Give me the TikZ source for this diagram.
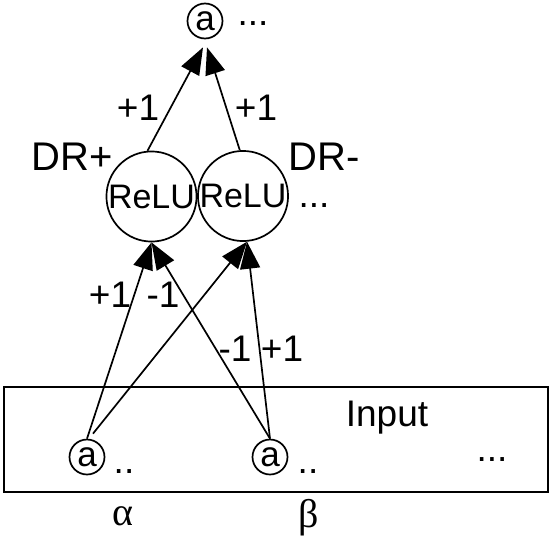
\documentclass[tikz,border=0pt]{standalone}
\usepackage{fontspec}
\setmainfont{Liberation Sans}
\newfontfamily\greekfont{Liberation Serif}
\usetikzlibrary{arrows.meta}
\begin{document}
\begin{tikzpicture}[x=1pt,y=-1pt,
  txt/.style={font=\fontsize{37}{42}\selectfont, inner sep=0pt},
  drtxt/.style={font=\fontsize{40}{44}\selectfont, inner sep=0pt},
  neuron/.style={circle, draw, line width=1.7pt, minimum size=88pt, inner sep=0pt, font=\fontsize{34}{38}\selectfont},
  unit/.style={circle, draw, line width=1.7pt, minimum size=35pt, inner sep=0pt, font=\fontsize{35}{40}\selectfont},
  greek/.style={font=\fontsize{40}{44}\selectfont\greekfont, inner sep=0pt},
  boxstyle/.style={draw, line width=1.8pt, minimum width=544pt, minimum height=105pt, inner sep=0pt},
  edge/.style={line width=1.7pt, -{Triangle[length=27pt,width=20pt]}}]
\useasboundingbox (0,0) rectangle (554,541);

% input box
\node[boxstyle] (box) at (276,439.5) {};
\node[txt] (inputlbl) at (387,418) {Input};

% top unit
\node[unit] (top) at (205,21) {a};
\node[txt, anchor=base] (topdots) at (253,25) {...};

% ReLU neurons
\node[neuron] (r1) at (151.5,196.5) {ReLU};
\node[neuron] (r2) at (243,196) {ReLU};
\node[drtxt] (drp) at (72,157) {DR+};
\node[drtxt] (drm) at (324,157) {DR-};
\node[txt, anchor=base] (rdots) at (314,207) {...};

% input units
\node[unit] (a1) at (87,457) {a};
\node[unit] (a2) at (270,457) {a};
\node[txt, anchor=base] (d1) at (124,473) {..};
\node[txt, anchor=base] (d2) at (308,473) {..};
\node[txt, anchor=base] (d3) at (492,461) {...};
\node[greek] (alpha) at (123,516) {α};
\node[greek] (beta) at (309,518) {β};

% target points
\coordinate (t1) at ([xshift=-2pt,yshift=-8pt]top.south);
\coordinate (t2) at ([xshift=2pt,yshift=-8pt]top.south);

% edges to top
\draw[edge] (r1.95) -- (t1);
\draw[edge] (r2.94) -- (t2);
\node[txt] (w1) at (138,108) {+1};
\node[txt] (w2) at (256,108) {+1};

% edges from inputs
\draw[edge] (a1.north) -- (r1.south);
\draw[edge] ([xshift=6pt,yshift=5pt]a1.north) -- (r2.-85);
\draw[edge] (a2.north) -- (r1.south);
\draw[edge] (a2.north) -- (r2.-85);
\node[txt] (w3) at (110,295) {+1};
\node[txt] (w4) at (163,295) {-1};
\node[txt] (w5) at (235,349) {-1};
\node[txt] (w6) at (282,349) {+1};
\end{tikzpicture}
\end{document}
